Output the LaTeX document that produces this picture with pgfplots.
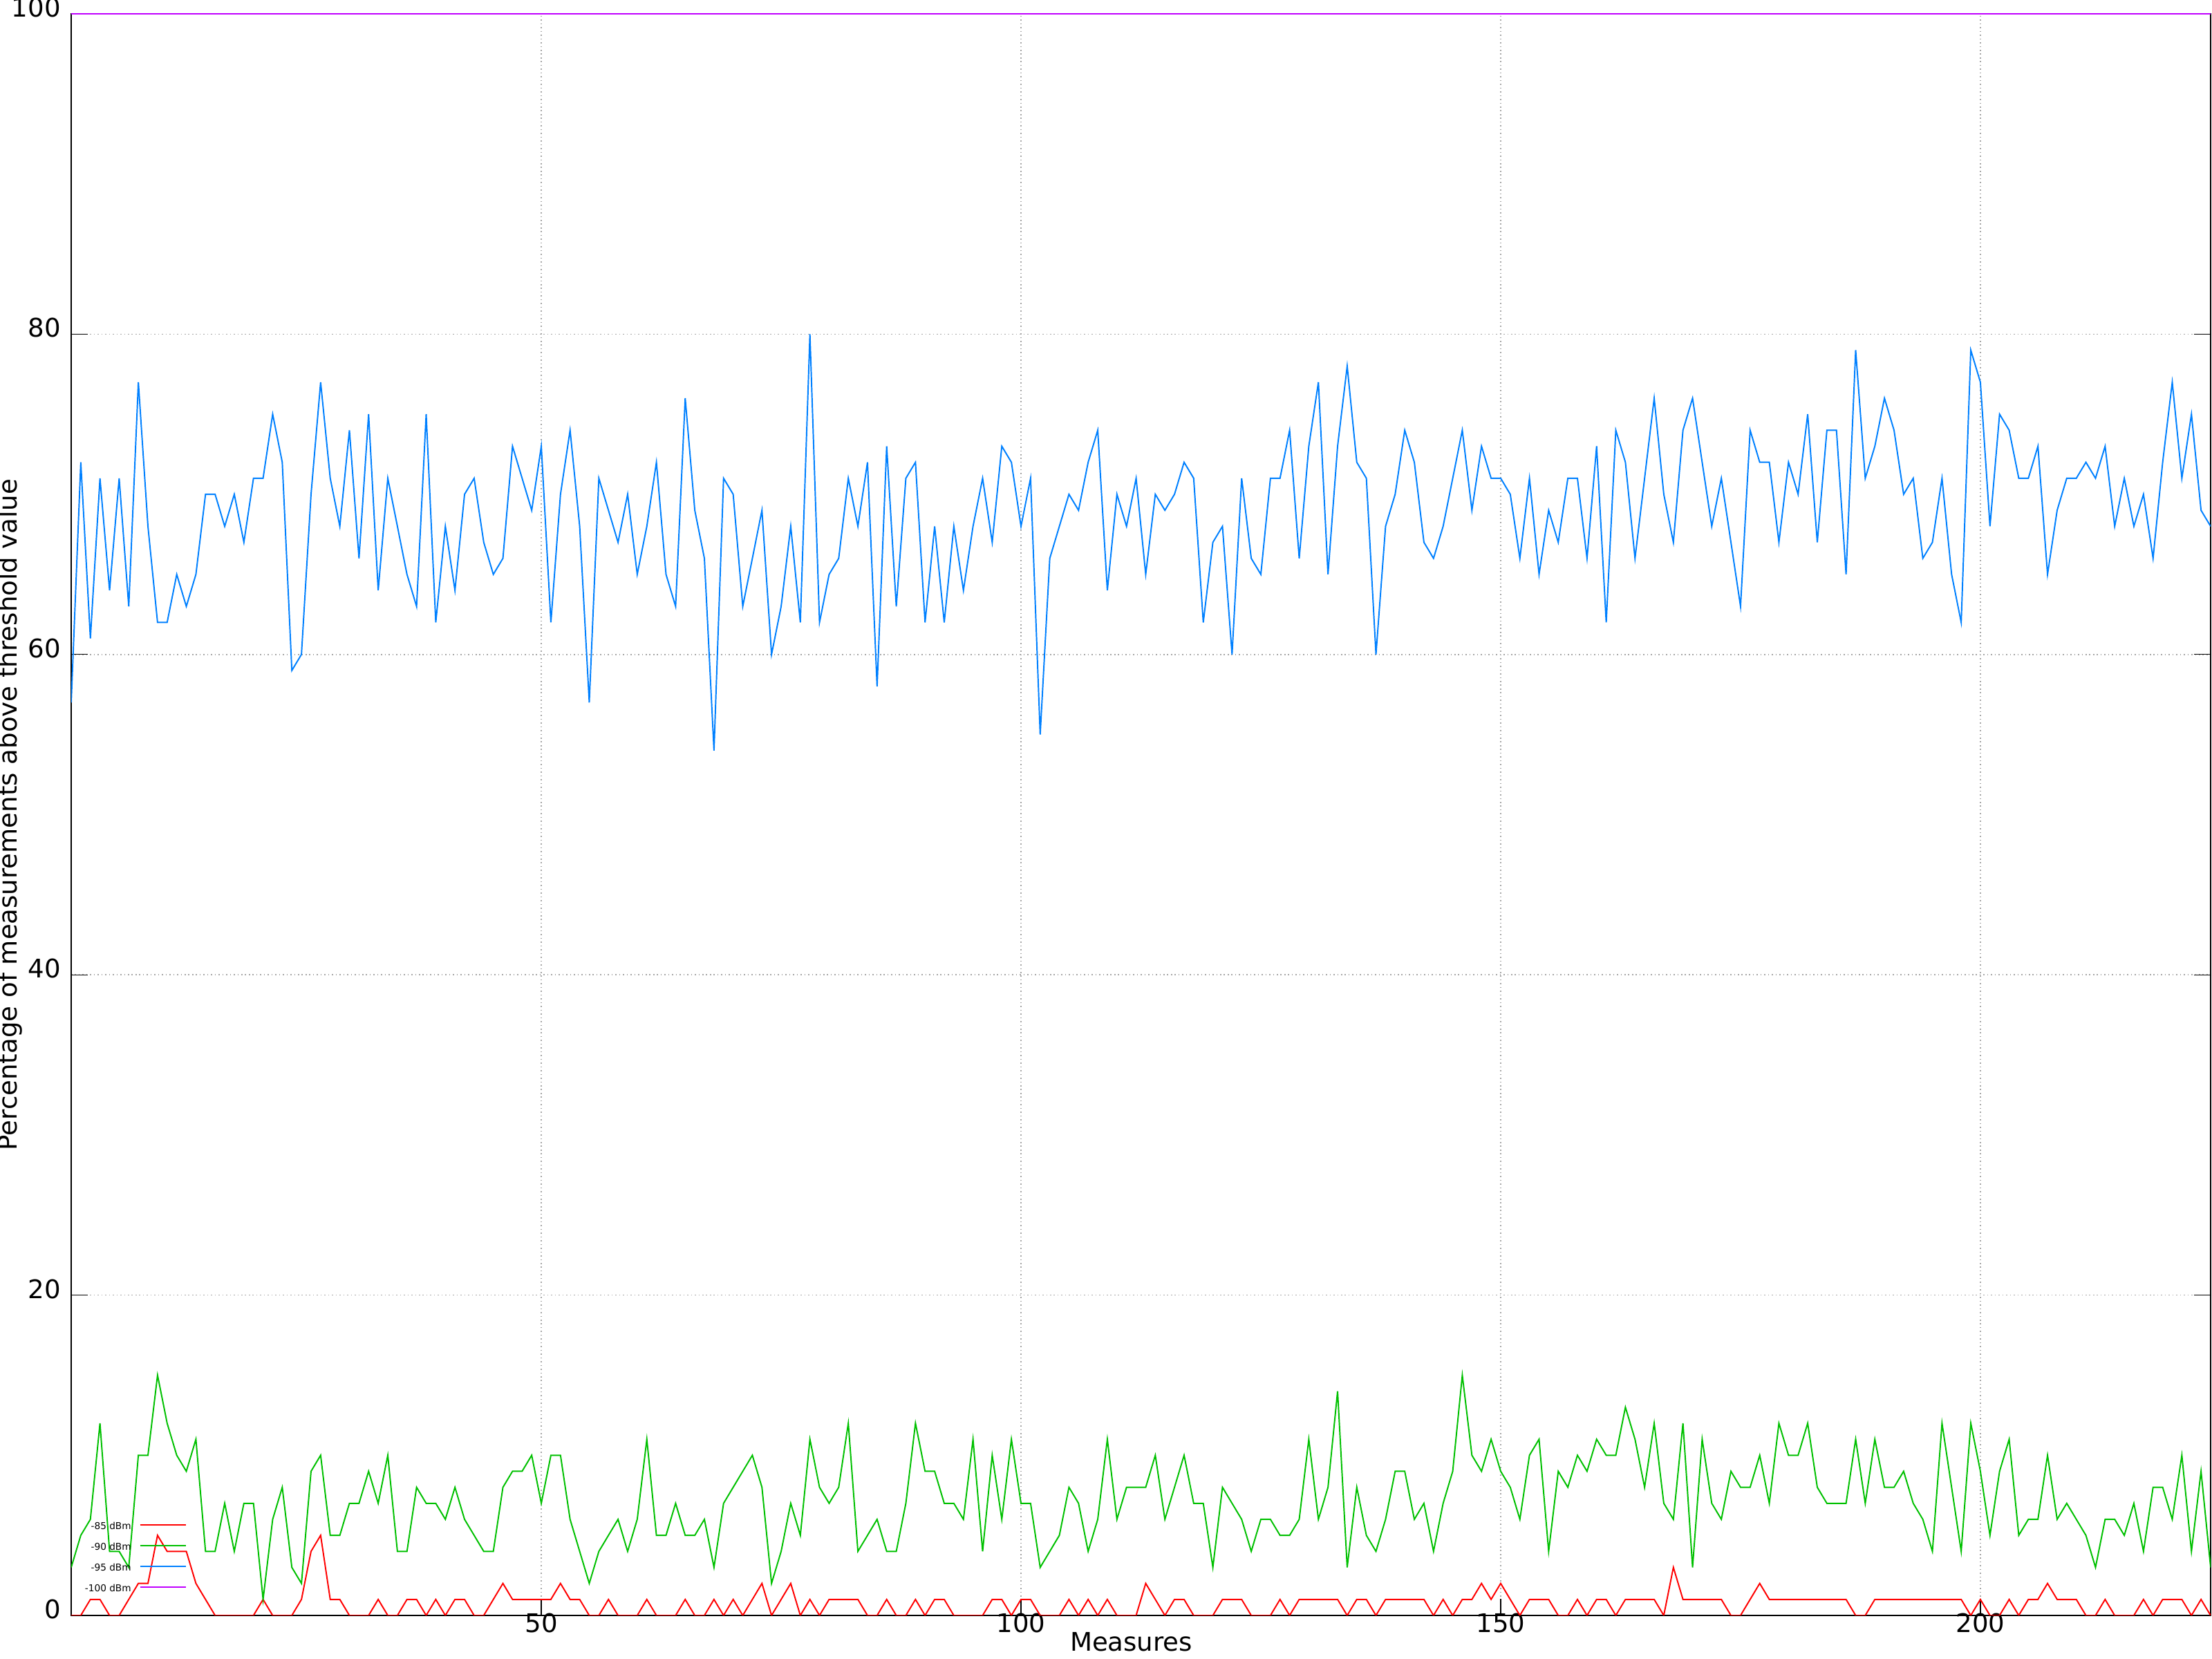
\documentclass[border=0pt]{standalone}
\usepackage{pgfplots}
\usepackage{pgfplotstable}
\pgfplotsset{compat=1.18}
\usepackage{fontspec}
\setmainfont{DejaVu Sans}
\setsansfont{DejaVu Sans}
\definecolor{cred}{RGB}{255,0,0}
\definecolor{cgreen}{RGB}{0,192,0}
\definecolor{cblue}{RGB}{0,128,255}
\definecolor{cpurple}{RGB}{192,0,255}
\pgfplotstableread{
x r g b
1 0 3 57
2 0 5 72
3 1 6 61
4 1 12 71
5 0 4 64
6 0 4 71
7 1 3 63
8 2 10 77
9 2 10 68
10 5 15 62
11 4 12 62
12 4 10 65
13 4 9 63
14 2 11 65
15 1 4 70
16 0 4 70
17 0 7 68
18 0 4 70
19 0 7 67
20 0 7 71
21 1 1 71
22 0 6 75
23 0 8 72
24 0 3 59
25 1 2 60
26 4 9 70
27 5 10 77
28 1 5 71
29 1 5 68
30 0 7 74
31 0 7 66
32 0 9 75
33 1 7 64
34 0 10 71
35 0 4 68
36 1 4 65
37 1 8 63
38 0 7 75
39 1 7 62
40 0 6 68
41 1 8 64
42 1 6 70
43 0 5 71
44 0 4 67
45 1 4 65
46 2 8 66
47 1 9 73
48 1 9 71
49 1 10 69
50 1 7 73
51 1 10 62
52 2 10 70
53 1 6 74
54 1 4 68
55 0 2 57
56 0 4 71
57 1 5 69
58 0 6 67
59 0 4 70
60 0 6 65
61 1 11 68
62 0 5 72
63 0 5 65
64 0 7 63
65 1 5 76
66 0 5 69
67 0 6 66
68 1 3 54
69 0 7 71
70 1 8 70
71 0 9 63
72 1 10 66
73 2 8 69
74 0 2 60
75 1 4 63
76 2 7 68
77 0 5 62
78 1 11 80
79 0 8 62
80 1 7 65
81 1 8 66
82 1 12 71
83 1 4 68
84 0 5 72
85 0 6 58
86 1 4 73
87 0 4 63
88 0 7 71
89 1 12 72
90 0 9 62
91 1 9 68
92 1 7 62
93 0 7 68
94 0 6 64
95 0 11 68
96 0 4 71
97 1 10 67
98 1 6 73
99 0 11 72
100 1 7 68
101 1 7 71
102 0 3 55
103 0 4 66
104 0 5 68
105 1 8 70
106 0 7 69
107 1 4 72
108 0 6 74
109 1 11 64
110 0 6 70
111 0 8 68
112 0 8 71
113 2 8 65
114 1 10 70
115 0 6 69
116 1 8 70
117 1 10 72
118 0 7 71
119 0 7 62
120 0 3 67
121 1 8 68
122 1 7 60
123 1 6 71
124 0 4 66
125 0 6 65
126 0 6 71
127 1 5 71
128 0 5 74
129 1 6 66
130 1 11 73
131 1 6 77
132 1 8 65
133 1 14 73
134 0 3 78
135 1 8 72
136 1 5 71
137 0 4 60
138 1 6 68
139 1 9 70
140 1 9 74
141 1 6 72
142 1 7 67
143 0 4 66
144 1 7 68
145 0 9 71
146 1 15 74
147 1 10 69
148 2 9 73
149 1 11 71
150 2 9 71
151 1 8 70
152 0 6 66
153 1 10 71
154 1 11 65
155 1 4 69
156 0 9 67
157 0 8 71
158 1 10 71
159 0 9 66
160 1 11 73
161 1 10 62
162 0 10 74
163 1 13 72
164 1 11 66
165 1 8 71
166 1 12 76
167 0 7 70
168 3 6 67
169 1 12 74
170 1 3 76
171 1 11 72
172 1 7 68
173 1 6 71
174 0 9 67
175 0 8 63
176 1 8 74
177 2 10 72
178 1 7 72
179 1 12 67
180 1 10 72
181 1 10 70
182 1 12 75
183 1 8 67
184 1 7 74
185 1 7 74
186 1 7 65
187 0 11 79
188 0 7 71
189 1 11 73
190 1 8 76
191 1 8 74
192 1 9 70
193 1 7 71
194 1 6 66
195 1 4 67
196 1 12 71
197 1 8 65
198 1 4 62
199 0 12 79
200 1 9 77
201 0 5 68
202 0 9 75
203 1 11 74
204 0 5 71
205 1 6 71
206 1 6 73
207 2 10 65
208 1 6 69
209 1 7 71
210 1 6 71
211 0 5 72
212 0 3 71
213 1 6 73
214 0 6 68
215 0 5 71
216 0 7 68
217 1 4 70
218 0 8 66
219 1 8 72
220 1 6 77
221 1 10 71
222 0 4 75
223 1 9 69
224 0 3 68
}\datatable
\begin{document}
\begin{tikzpicture}
\begin{axis}[
  at={(0,0)}, anchor=south west,
  scale only axis, width=27.855cm, height=20.853cm,
  xmin=1, xmax=224, ymin=0, ymax=100,
  xtick={50,100,150,200}, ytick={0,20,40,60,80,100},
  xtick pos=lower,
  /pgf/number format/assume math mode=true,
  grid=major,
  major grid style={densely dotted, black!35, line width=0.4pt},
  tick align=inside, major tick length=0.216cm,
  tick style={black, line width=0.3pt},
  axis line style={black, line width=0.3pt},
  every tick label/.append style={font=\fontsize{9.5}{11}\selectfont},
  xticklabel style={anchor=north, inner sep=0pt, yshift=0.036cm},
  yticklabel style={anchor=east, inner sep=0pt, xshift=-0.13cm, yshift=0.08cm},
  xlabel={Measures},
  ylabel={Percentage of measurements above threshold value},
  xlabel style={at={(axis description cs:0.4955,0)}, anchor=north, inner sep=0pt, yshift=-0.216cm, font=\fontsize{9.5}{11}\selectfont},
  ylabel style={at={(axis description cs:-0.0252,0.5)}, anchor=base, inner sep=0pt, font=\fontsize{9.5}{11}\selectfont},
  legend style={at={(axis cs:13.05,6.13)}, anchor=north east, draw=none, fill=none,
    font=\fontsize{3.5}{4}\selectfont, row sep=0pt, column sep=0.108cm, inner sep=0pt,
    nodes={inner sep=0pt, text height=0.15cm, text depth=0.12cm}},
  legend plot pos=right, legend cell align=right,
  legend image code/.code={\draw[#1, line width=0.45pt] (0cm,0.045cm) -- (0.594cm,0.045cm);},
]
\addplot[cred, line width=0.5pt] table[x=x, y=r] {\datatable};
\addlegendentry{-85 dBm}
\addplot[cgreen, line width=0.5pt] table[x=x, y=g] {\datatable};
\addlegendentry{-90 dBm}
\addplot[cblue, line width=0.5pt] table[x=x, y=b] {\datatable};
\addlegendentry{-95 dBm}
\addplot[cpurple, line width=0.5pt] coordinates {(1,100) (224,100)};
\addlegendentry{-100 dBm}
\end{axis}
\pgfresetboundingbox
\path[use as bounding box] (-0.927cm,-0.567cm) rectangle (27.873cm,21.033cm);
\end{tikzpicture}
\end{document}
